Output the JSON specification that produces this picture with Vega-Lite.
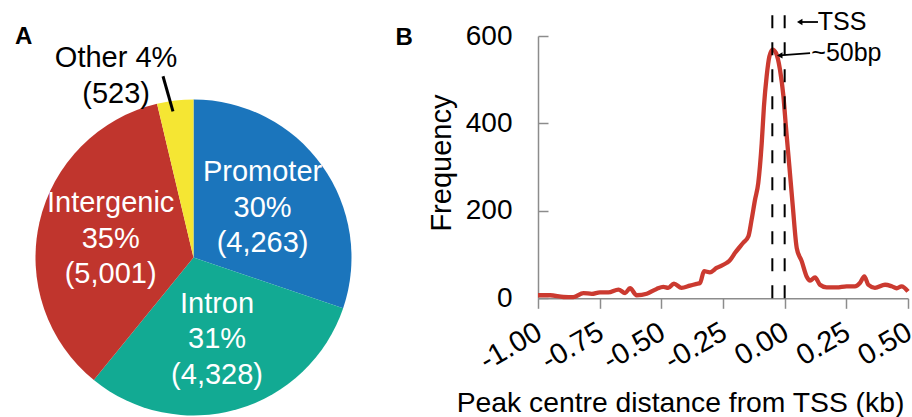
{
  "$schema": "https://vega.github.io/schema/vega-lite/v6.json",
  "padding": {"top": 9, "left": 0, "right": 0, "bottom": 0},
  "spacing": 151,
  "bounds": "flush",
  "config": {"view": {"stroke": null}, "font": "Liberation Sans"},
  "datasets": {
    "pie": [
      {"category": "Promoter", "count": 4263, "order": 1, "label": "Promoter\n30%\n(4,263)"},
      {"category": "Intron", "count": 4328, "order": 2, "label": "Intron\n31%\n(4,328)"},
      {"category": "Intergenic", "count": 5001, "order": 3, "label": "Intergenic\n35%\n(5,001)"},
      {"category": "Other", "count": 523, "order": 4, "label": ""}
    ],
    "otherLabel": [{"text": "Other 4%\n(523)", "x": -0.49, "y": 1.147}],
    "leader": [{"x": -0.193, "y": 1.147, "x2": -0.13, "y2": 0.925}],
    "curve": [
      {"dist": -1.0, "freq": 7}, {"dist": -0.951, "freq": 7}, {"dist": -0.897, "freq": 3}, {"dist": -0.857, "freq": 2.5},
      {"dist": -0.816, "freq": 12}, {"dist": -0.782, "freq": 10}, {"dist": -0.749, "freq": 13.5}, {"dist": -0.715, "freq": 13.5},
      {"dist": -0.674, "freq": 20}, {"dist": -0.647, "freq": 12}, {"dist": -0.627, "freq": 23}, {"dist": -0.6, "freq": 7},
      {"dist": -0.559, "freq": 10.5}, {"dist": -0.519, "freq": 21.5}, {"dist": -0.492, "freq": 26}, {"dist": -0.472, "freq": 24},
      {"dist": -0.449, "freq": 33.5}, {"dist": -0.418, "freq": 24}, {"dist": -0.384, "freq": 29}, {"dist": -0.357, "freq": 33},
      {"dist": -0.343, "freq": 35}, {"dist": -0.327, "freq": 62}, {"dist": -0.303, "freq": 59.5}, {"dist": -0.276, "freq": 69.5},
      {"dist": -0.235, "freq": 81}, {"dist": -0.222, "freq": 87}, {"dist": -0.201, "freq": 104}, {"dist": -0.168, "freq": 127},
      {"dist": -0.147, "freq": 142}, {"dist": -0.134, "freq": 180}, {"dist": -0.12, "freq": 226}, {"dist": -0.107, "freq": 264},
      {"dist": -0.093, "freq": 355}, {"dist": -0.084, "freq": 439}, {"dist": -0.073, "freq": 508}, {"dist": -0.062, "freq": 553},
      {"dist": -0.049, "freq": 569}, {"dist": -0.035, "freq": 561}, {"dist": -0.019, "freq": 523}, {"dist": -0.005, "freq": 462},
      {"dist": 0.005, "freq": 393}, {"dist": 0.019, "freq": 302}, {"dist": 0.033, "freq": 210}, {"dist": 0.049, "freq": 115},
      {"dist": 0.069, "freq": 85}, {"dist": 0.089, "freq": 50}, {"dist": 0.103, "freq": 40.5}, {"dist": 0.123, "freq": 48},
      {"dist": 0.143, "freq": 31}, {"dist": 0.17, "freq": 25}, {"dist": 0.211, "freq": 25}, {"dist": 0.251, "freq": 27.5},
      {"dist": 0.285, "freq": 27.5}, {"dist": 0.305, "freq": 35}, {"dist": 0.323, "freq": 50}, {"dist": 0.339, "freq": 31},
      {"dist": 0.366, "freq": 24}, {"dist": 0.407, "freq": 31}, {"dist": 0.434, "freq": 27.5}, {"dist": 0.454, "freq": 23},
      {"dist": 0.474, "freq": 27.5}, {"dist": 0.5, "freq": 16}
    ],
    "tss": [{"pos": -0.05}, {"pos": 0}],
    "arrows": [
      {"x1": 0.135, "y1": 632, "x2": 0.061, "y2": 632},
      {"x1": 0.103, "y1": 561, "x2": -0.02, "y2": 555.5}
    ],
    "notes": [
      {"text": "TSS", "x": 0.134, "y": 614.6},
      {"text": "~50bp", "x": 0.108, "y": 542}
    ]
  },
  "hconcat": [
    {
      "width": 387,
      "height": 443,
      "title": {"text": "A", "anchor": "start", "frame": "group", "fontSize": 24, "fontWeight": "bold", "dx": 15, "offset": -32.3, "baseline": "alphabetic", "color": "black"},
      "layer": [
        {
          "data": {"name": "pie"},
          "mark": {"type": "arc", "radius": 158},
          "encoding": {
            "theta": {"field": "count", "type": "quantitative", "stack": true},
            "order": {"field": "order", "type": "quantitative"},
            "color": {"field": "category", "type": "nominal", "legend": null,
              "scale": {"domain": ["Promoter", "Intron", "Intergenic", "Other"], "range": ["#1b75bc", "#12aa93", "#c0352d", "#f5e633"]}}
          }
        },
        {
          "data": {"name": "pie"},
          "mark": {"type": "text", "radius": 85, "fill": "white", "fontSize": 29, "lineHeight": 35.5, "lineBreak": "\n", "align": "center", "baseline": "middle", "dy": -35.5},
          "encoding": {
            "theta": {"field": "count", "type": "quantitative", "stack": true},
            "order": {"field": "order", "type": "quantitative"},
            "detail": {"field": "category", "type": "nominal"},
            "text": {"field": "label"}
          }
        },
        {
          "data": {"name": "otherLabel"},
          "mark": {"type": "text", "fill": "black", "fontSize": 29, "lineHeight": 36, "lineBreak": "\n", "align": "center", "baseline": "middle", "dy": -18},
          "encoding": {
            "x": {"field": "x", "type": "quantitative", "scale": {"domain": [-1.2247, 1.2247], "nice": false, "zero": false}, "axis": null},
            "y": {"field": "y", "type": "quantitative", "scale": {"domain": [-1.4019, 1.4019], "nice": false, "zero": false}, "axis": null},
            "text": {"field": "text"}
          }
        },
        {
          "data": {"name": "leader"},
          "mark": {"type": "rule", "strokeWidth": 3, "color": "black"},
          "encoding": {
            "x": {"field": "x", "type": "quantitative"},
            "y": {"field": "y", "type": "quantitative"},
            "x2": {"field": "x2"},
            "y2": {"field": "y2"}
          }
        }
      ]
    },
    {
      "width": 370,
      "height": 262.3,
      "title": {"text": "B", "anchor": "start", "frame": "group", "fontSize": 24, "fontWeight": "bold", "dx": -142.5, "offset": -59.3, "baseline": "alphabetic", "color": "black"},
      "layer": [
        {
          "data": {"name": "curve"},
          "mark": {"type": "line", "color": "#cb3a30", "strokeWidth": 4.3, "interpolate": "monotone"},
          "encoding": {
            "x": {"field": "dist", "type": "quantitative", "title": "Peak centre distance from TSS (kb)",
              "scale": {"domain": [-1, 0.5], "nice": false, "zero": false},
              "axis": {"values": [-1, -0.75, -0.5, -0.25, 0, 0.25, 0.5],
                "labelExpr": "replace(format(datum.value, '.2f'), '\u2212', '-')",
                "labelAngle": -30, "labelAlign": "right", "labelBaseline": "top", "labelFontSize": 29, "labelColor": "black",
                "labelPadding": 9, "labelOffset": -6, "labelFlush": false, "labelOverlap": false, "tickSize": 10, "tickColor": "#8c8c8c", "tickWidth": 1.5,
                "domainColor": "#8c8c8c", "domainWidth": 1.5, "grid": false,
                "titleFontSize": 28.3, "titleFontWeight": "normal", "titleColor": "black", "titleX": 142, "titleY": 112.7,
                "titleBaseline": "alphabetic", "titleAlign": "center"}},
            "y": {"field": "freq", "type": "quantitative", "title": "Frequency",
              "scale": {"domain": [0, 600], "nice": false},
              "axis": {"values": [0, 200, 400, 600], "labelFontSize": 28, "labelColor": "black", "tickSize": -10, "labelPadding": 36,
                "tickColor": "#8c8c8c", "tickWidth": 1.5, "domainColor": "#8c8c8c", "domainWidth": 1.5, "grid": false,
                "titleFontSize": 29, "titleFontWeight": "normal", "titleColor": "black", "titleX": -88, "titleY": 126.6,
                "titleBaseline": "alphabetic", "titleAngle": -90, "titleAlign": "center"}}
          }
        },
        {
          "data": {"name": "tss"},
          "mark": {"type": "rule", "strokeDash": [13, 14], "strokeWidth": 2, "color": "black"},
          "encoding": {
            "x": {"field": "pos", "type": "quantitative", "title": "Peak centre distance from TSS (kb)"},
            "y": {"datum": 0, "title": "Frequency"},
            "y2": {"datum": 656}
          }
        },
        {
          "data": {"name": "arrows"},
          "mark": {"type": "rule", "strokeWidth": 1.8, "color": "black"},
          "encoding": {
            "x": {"field": "x1", "type": "quantitative", "title": "Peak centre distance from TSS (kb)"},
            "x2": {"field": "x2"},
            "y": {"field": "y1", "type": "quantitative", "title": "Frequency"},
            "y2": {"field": "y2"}
          }
        },
        {
          "data": {"name": "arrows"},
          "mark": {"type": "point", "shape": "triangle-left", "filled": true, "color": "black", "size": 40, "opacity": 1},
          "encoding": {
            "x": {"field": "x2", "type": "quantitative", "title": "Peak centre distance from TSS (kb)"},
            "y": {"field": "y2", "type": "quantitative", "title": "Frequency"}
          }
        },
        {
          "data": {"name": "notes"},
          "mark": {"type": "text", "align": "left", "baseline": "alphabetic", "fontSize": 25, "fill": "black"},
          "encoding": {
            "x": {"field": "x", "type": "quantitative", "title": "Peak centre distance from TSS (kb)"},
            "y": {"field": "y", "type": "quantitative", "title": "Frequency"},
            "text": {"field": "text"}
          }
        }
      ]
    }
  ]
}
